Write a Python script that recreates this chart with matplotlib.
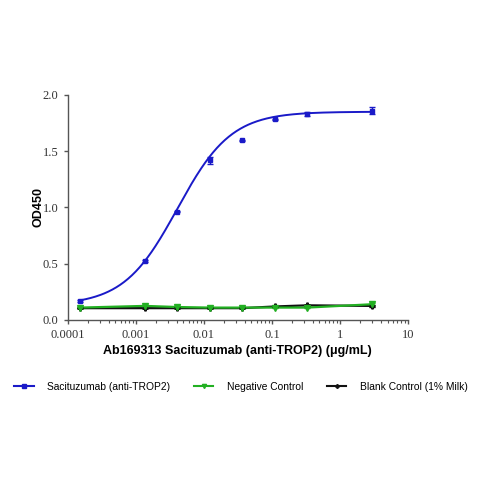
import numpy as np
import matplotlib
matplotlib.use("Agg")
import matplotlib.pyplot as plt
from matplotlib.ticker import FixedLocator, LogLocator, FixedFormatter

# concentrations (ug/mL)
conc = [0.000152, 0.00137, 0.0041, 0.0123, 0.037, 0.111, 0.333, 3.0]

# Sacituzumab (anti-TROP2)
saci_od = [0.169, 0.524, 0.963, 1.42, 1.597, 1.784, 1.828, 1.86]
saci_err = [0.005, 0.01, 0.008, 0.03, 0.005, 0.005, 0.02, 0.03]

# Negative Control
neg_od = [0.11, 0.125, 0.115, 0.11, 0.11, 0.11, 0.11, 0.14]
neg_err = [0.004, 0.01, 0.006, 0.006, 0.005, 0.005, 0.006, 0.01]

# Blank Control (1% Milk)
blank_od = [0.105, 0.105, 0.105, 0.105, 0.105, 0.12, 0.13, 0.125]
blank_err = [0.003, 0.003, 0.003, 0.003, 0.003, 0.004, 0.005, 0.01]

# 4PL fit params for the blue curve: bottom, top, ec50, hill
fit_bottom, fit_top, fit_ec50, fit_hill = 0.13, 1.85, 0.0041, 1.1

yticks = [0.0, 0.5, 1.0, 1.5, 2.0]
xticks = [0.0001, 0.001, 0.01, 0.1, 1, 10]
xtick_labels = ["0.0001", "0.001", "0.01", "0.1", "1", "10"]

fig = plt.figure(figsize=(4.79, 4.79), dpi=100)
ax = fig.add_axes([0.1413, 0.332, 0.7105, 0.47])

blue = "#1a1ac8"
green = "#22b022"
black = "#111111"

xs = np.logspace(np.log10(conc[0]), np.log10(conc[-1]), 300)
fit = fit_bottom + (fit_top - fit_bottom) / (1 + (fit_ec50 / xs) ** fit_hill)

ax.plot(conc, blank_od, color=black, lw=1.6, zorder=2)
ax.errorbar(conc, blank_od, yerr=blank_err, fmt="P", ms=3.5, color=black,
            capsize=2, elinewidth=1, zorder=3)
ax.plot(conc, neg_od, color=green, lw=1.6, zorder=2)
ax.errorbar(conc, neg_od, yerr=neg_err, fmt="v", ms=4, color=green,
            capsize=2, elinewidth=1, zorder=3)
ax.plot(xs, fit, color=blue, lw=1.4, zorder=4)
ax.errorbar(conc, saci_od, yerr=saci_err, fmt="s", ms=3.2, color=blue,
            capsize=2, elinewidth=1, zorder=5)

ax.set_xscale("log")
ax.set_xlim(0.0001, 10)
ax.set_ylim(0, 2.0)
ax.xaxis.set_major_locator(FixedLocator(xticks))
ax.xaxis.set_major_formatter(FixedFormatter(xtick_labels))
ax.xaxis.set_minor_locator(LogLocator(base=10, subs=np.arange(2, 10), numticks=20))
ax.set_yticks(yticks)
ax.set_yticklabels(["%.1f" % v for v in yticks])

for s in ["top", "right"]:
    ax.spines[s].set_visible(False)
for s in ["left", "bottom"]:
    ax.spines[s].set_color("#555555")
    ax.spines[s].set_linewidth(1.0)
ax.tick_params(axis="both", which="major", direction="out", length=3, width=1,
               color="#555555", labelsize=9)
ax.tick_params(axis="x", which="minor", direction="out", length=2, width=0.8, color="#555555")
for lab in ax.get_xticklabels() + ax.get_yticklabels():
    lab.set_family("Liberation Serif")
    lab.set_color("#333333")

ax.set_xlabel("Ab169313 Sacituzumab (anti-TROP2) (μg/mL)", family="Liberation Sans",
              fontweight="bold", fontsize=9, labelpad=3)
ax.set_ylabel("OD450", family="Liberation Sans", fontweight="bold", fontsize=9, labelpad=-1)

handles = [
    plt.Line2D([], [], color=blue, marker="s", ms=2.5, lw=1.5),
    plt.Line2D([], [], color=green, marker="v", ms=3, lw=1.5),
    plt.Line2D([], [], color=black, marker="P", ms=2.5, lw=1.5),
]
labels = ["Sacituzumab (anti-TROP2)", "Negative Control", "Blank Control (1% Milk)"]
fig.legend(handles, labels, loc="center", bbox_to_anchor=(0.503, 0.192), ncol=3,
           frameon=False, prop={"family": "Liberation Sans", "size": 7.4},
           handlelength=1.9, columnspacing=2.3, handletextpad=1.3)

fig.savefig("out.png", dpi=100)
